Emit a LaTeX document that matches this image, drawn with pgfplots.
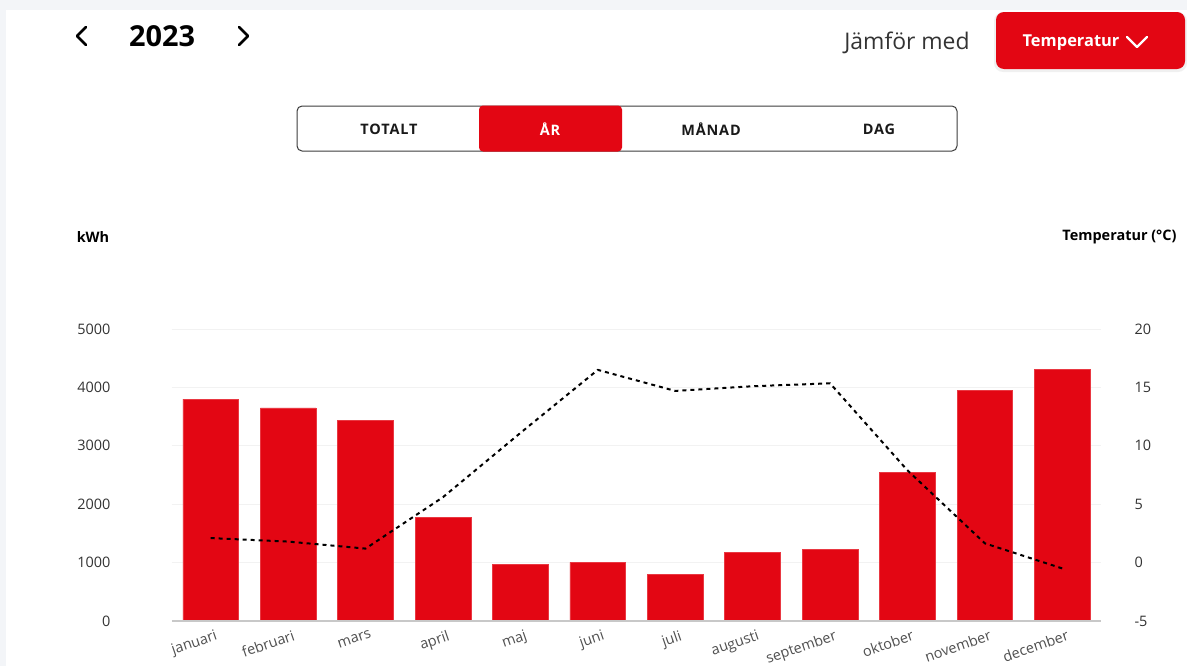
\documentclass[border=0pt]{standalone}
\usepackage{fontspec}
\setmainfont{Open Sans}
\usepackage{pgfplots}
\pgfplotsset{compat=1.18}
\definecolor{barred}{RGB}{227,6,19}
\definecolor{bggrey}{RGB}{243,245,248}
\definecolor{gridgrey}{RGB}{242,242,242}
\definecolor{basegrey}{RGB}{200,200,200}
\definecolor{txtgrey}{RGB}{51,51,51}
\definecolor{lblgrey}{RGB}{80,80,80}
\definecolor{segborder}{RGB}{60,60,60}
\pgfplotstableread{
x kwh temp
0 3800 2.1
1 3650 1.8
2 3430 1.2
3 1780 5.6
4 975 11.1
5 1005 16.5
6 800 14.7
7 1180 15.1
8 1220 15.35
9 2548 7.9
10 3950 1.65
11 4303 -0.5
}\datatable
\begin{document}
\begin{tikzpicture}
\useasboundingbox (0,0) rectangle (1187bp,-666bp);
\fill[bggrey] (0,0) rectangle (1187bp,-666bp);
\fill[white] (6bp,-10bp) rectangle (1187bp,-666bp);
% header
\draw[line width=2.6bp, line cap=round, line join=round] (86bp,-27bp) -- (77bp,-36bp) -- (86bp,-45bp);
\draw[line width=2.6bp, line cap=round, line join=round] (239bp,-27bp) -- (248bp,-36bp) -- (239bp,-45bp);
\node[font=\fontsize{29}{34}\selectfont\bfseries] at (162bp,-36bp) {2023};
\node[font=\fontsize{23}{28}\selectfont, text=txtgrey] at (907bp,-43bp) {Jämför med};
\fill[black!6] (994bp,-12bp) [rounded corners=9bp] rectangle (1187bp,-72bp);
\fill[barred, rounded corners=8bp] (996bp,-12bp) rectangle (1185bp,-69bp);
\node[font=\fontsize{16.5}{20}\selectfont\bfseries, text=white] at (1071bp,-43bp) {Temperatur};
\draw[white, line width=2.2bp, line cap=round, line join=round] (1127bp,-37bp) -- (1137bp,-47bp) -- (1147bp,-37bp);
% segmented control
\draw[segborder, line width=1bp, rounded corners=5bp] (297bp,-106bp) rectangle (957bp,-151bp);
\fill[barred, rounded corners=4bp] (479bp,-105.5bp) rectangle (622bp,-151.5bp);
\begin{scope}[every node/.style={font=\fontsize{14.5}{17}\selectfont\bfseries\addfontfeature{LetterSpace=6}}]
\node[text=black!90] at (389bp,-129bp) {TOTALT};
\node[text=white] at (550bp,-129bp) {ÅR};
\node[text=black!90] at (711bp,-129bp) {MÅNAD};
\node[text=black!90] at (879bp,-129bp) {DAG};
\end{scope}
% axis titles
\node[font=\fontsize{14.5}{17}\selectfont\bfseries, anchor=center] at (93bp,-237bp) {kWh};
\node[font=\fontsize{14.5}{17}\selectfont\bfseries, anchor=east] at (1180bp,-237bp) {Temperatur (°C)};
% bars
\begin{axis}[
  at={(172bp,-621bp)}, anchor=south west,
  scale only axis, width=929bp, height=292bp,
  xmin=-0.5, xmax=11.5, ymin=0, ymax=5000,
  axis line style={draw=none},
  major tick length=0pt,
  ymajorgrids, grid style={gridgrey, line width=1bp},
  ytick={0,1000,2000,3000,4000,5000},
  yticklabels={0,1000,2000,3000,4000,5000},
  yticklabel style={font=\fontsize{14.5}{17}\selectfont, text=txtgrey, anchor=east, xshift=-58bp},
  xtick={0,...,11},
  xticklabels={januari,februari,mars,april,maj,juni,juli,augusti,september,oktober,november,december},
  xticklabel style={font=\fontsize{14.5}{17}\selectfont, text=lblgrey, rotate=19, anchor=north east, inner sep=1bp, xshift=2bp, yshift=-8bp},
  clip=false,
]
\addplot[ybar, bar width=0.72, fill=barred, draw=barred!80!white, line width=0.6bp] table[x=x, y=kwh] {\datatable};
\draw[basegrey, line width=1.2bp] (rel axis cs:0,0) -- (rel axis cs:1,0);
\end{axis}
% temperature
\begin{axis}[
  at={(172bp,-621bp)}, anchor=south west,
  scale only axis, width=929bp, height=292bp,
  xmin=-0.5, xmax=11.5, ymin=-5, ymax=20,
  hide x axis,
  axis y line*=right,
  axis line style={draw=none},
  major tick length=0pt,
  ytick={-5,0,5,10,15,20},
  yticklabels={-5,0,5,10,15,20},
  yticklabel style={font=\fontsize{14.5}{17}\selectfont, text=txtgrey, anchor=west, xshift=30bp},
  clip=false,
]
\addplot[black, line width=2bp, dash pattern=on 4bp off 4bp, sharp plot, mark=none] table[x=x, y=temp] {\datatable};
\end{axis}
\end{tikzpicture}
\end{document}
